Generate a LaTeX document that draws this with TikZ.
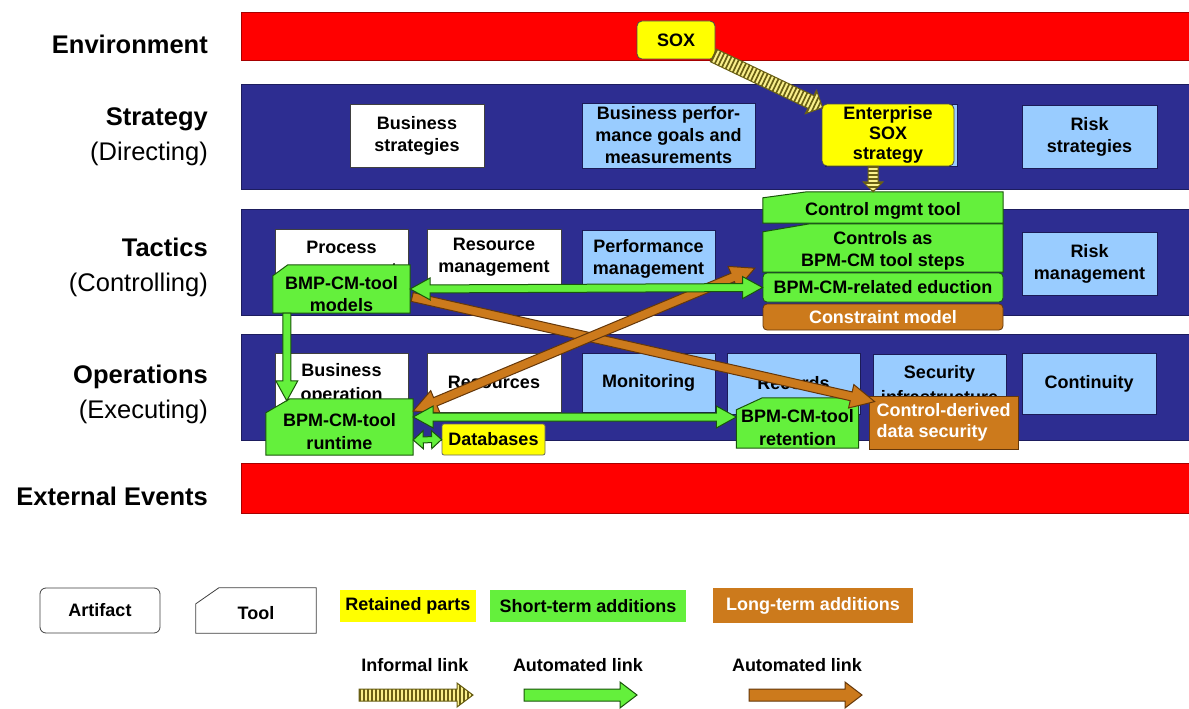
\documentclass[tikz,border=0pt]{standalone}
\usepackage{fontspec}
\setmainfont{Liberation Sans}
\usetikzlibrary{calc}

\definecolor{navy}{RGB}{45,45,145}
\definecolor{lblue}{RGB}{153,204,255}
\definecolor{grn}{RGB}{100,240,60}
\definecolor{dgrn}{RGB}{25,85,10}
\definecolor{org}{RGB}{204,122,28}
\definecolor{dorg}{RGB}{100,55,10}
\definecolor{yel}{RGB}{255,255,0}
\definecolor{inffill}{RGB}{250,240,140}
\definecolor{infline}{RGB}{105,95,20}
\definecolor{redband}{RGB}{255,0,0}

\pgfdeclarelayer{boxlayer}
\pgfdeclarelayer{toollayer}
\pgfsetlayers{boxlayer,toollayer,main}

\newcommand\boxfont{\fontsize{18}{22}\selectfont\bfseries}

\tikzset{
  sz/.style 2 args={minimum width=#1pt, minimum height=#2pt},
  band/.style={draw=#1!65!black, fill=#1, line width=0.8pt},
  lbl/.style={font=\fontsize{25.5}{35}\selectfont, anchor=east, align=right, inner sep=0pt},
  box/.style={draw=black!75, line width=0.8pt, align=center, inner sep=0pt, font=\boxfont, text=black},
  wbox/.style={box, fill=white},
  bbox/.style={box, fill=lblue, draw=navy!60!black},
  ybox/.style={box, fill=yel, draw=black!70, rounded corners=5pt},
  gbox/.style={box, fill=grn, draw=dgrn, rounded corners=4pt},
  obox/.style={box, fill=org, draw=dorg, text=white, rounded corners=4pt},
  toolnode/.style={inner sep=0pt},
  txt/.style={font=\boxfont, align=center, inner sep=0pt},
  toolline/.style={fill=grn, draw=dgrn, line width=1pt},
  garrow/.style={fill=grn, draw=dgrn, line width=1pt, line join=miter},
  oarrow/.style={fill=org, draw=dorg, line width=1pt, line join=miter},
  legbox/.style={align=center, inner sep=0pt, font=\boxfont},
}

% tool outline: rectangle with a chamfered top-left corner
\newcommand\toolshape[4][toolline]{%
  \begin{pgfonlayer}{toollayer}
    \draw[#1] (#2.south west) -- ($(#2.north west)+(0,#4)$) -- ($(#2.north west)+(#3,0)$)
      -- (#2.north east) -- (#2.south east) -- cycle;
  \end{pgfonlayer}}

% single-headed block arrow: style, from, to, shaft half width, head half width, head length
\newcommand\blockarrow[6][]{%
  \coordinate (ba-s) at #2; \coordinate (ba-e) at #3;
  \coordinate (ba-h) at ($(ba-e)!#6!(ba-s)$);
  \draw[#1] ($(ba-s)!#4!90:(ba-e)$) -- ($(ba-h)!#4!90:(ba-e)$) -- ($(ba-h)!#5!90:(ba-e)$)
    -- (ba-e) -- ($(ba-h)!#5!-90:(ba-e)$) -- ($(ba-h)!#4!-90:(ba-e)$)
    -- ($(ba-s)!#4!-90:(ba-e)$) -- cycle;}

% double-headed block arrow
\newcommand\dblarrow[6][]{%
  \coordinate (ba-s) at #2; \coordinate (ba-e) at #3;
  \coordinate (ba-h) at ($(ba-e)!#6!(ba-s)$);
  \coordinate (ba-g) at ($(ba-s)!#6!(ba-e)$);
  \draw[#1] (ba-s) -- ($(ba-g)!#5!90:(ba-e)$) -- ($(ba-g)!#4!90:(ba-e)$)
    -- ($(ba-h)!#4!90:(ba-e)$) -- ($(ba-h)!#5!90:(ba-e)$) -- (ba-e)
    -- ($(ba-h)!#5!-90:(ba-e)$) -- ($(ba-h)!#4!-90:(ba-e)$)
    -- ($(ba-g)!#4!-90:(ba-e)$) -- ($(ba-g)!#5!-90:(ba-e)$) -- cycle;}

% informal (hatched) arrow: from, to, shaft half width, head half width, head length
\newcommand\infarrow[5]{%
  \coordinate (ia-s) at #1; \coordinate (ia-e) at #2;
  \coordinate (ia-h) at ($(ia-e)!#5!(ia-s)$);
  \coordinate (ia-1) at ($(ia-s)!#3!90:(ia-e)$);
  \coordinate (ia-2) at ($(ia-h)!#3!90:(ia-e)$);
  \coordinate (ia-3) at ($(ia-h)!#4!90:(ia-e)$);
  \coordinate (ia-4) at ($(ia-h)!#4!-90:(ia-e)$);
  \coordinate (ia-5) at ($(ia-h)!#3!-90:(ia-e)$);
  \coordinate (ia-6) at ($(ia-s)!#3!-90:(ia-e)$);
  \fill[inffill] (ia-1) -- (ia-2) -- (ia-3) -- (ia-e) -- (ia-4) -- (ia-5) -- (ia-6) -- cycle;
  \begin{scope}
    \clip (ia-1) -- (ia-2) -- (ia-3) -- (ia-e) -- (ia-4) -- (ia-5) -- (ia-6) -- cycle;
    \draw[infline, line width=40pt, dash pattern=on 1.7pt off 2.3pt] (ia-s) -- (ia-e);
  \end{scope}
  \draw[infline, line width=1pt, line join=miter]
    (ia-1) -- (ia-2) -- (ia-3) -- (ia-e) -- (ia-4) -- (ia-5) -- (ia-6) -- cycle;}

\begin{document}
\begin{tikzpicture}[x=1pt,y=-1pt]
\useasboundingbox (0,0) rectangle (1189,709);

% ---------- layer titles ----------
\node[lbl, font=\fontsize{25.5}{35}\selectfont\bfseries] (l-env) at (208,44) {Environment};
\node[lbl] (l-strat) at (208,137) {\textbf{Strategy}\\(Directing)};
\node[lbl] (l-tact) at (208,267) {\textbf{Tactics}\\(Controlling)};
\node[lbl] (l-oper) at (208,394) {\textbf{Operations}\\(Executing)};
\node[lbl, font=\fontsize{25.5}{35}\selectfont\bfseries] (l-ext) at (208,496) {External Events};

\begin{pgfonlayer}{boxlayer}
\fill[white] (0,0) rectangle (1189,709);
% ---------- bands ----------
\draw[band=redband] (241,12) rectangle (1192,60);
\draw[band=navy] (241,84) rectangle (1192,189);
\draw[band=navy] (241,209) rectangle (1192,315);
\draw[band=navy] (241,334) rectangle (1192,440);
\draw[band=redband] (241,463) rectangle (1192,513);

% ---------- strategy ----------
\node[wbox, sz={134}{63}] (bstrat) at (417,136) {Business\\strategies};
\node[bbox, sz={173}{65}] (bperf) at (668.5,135.5) {Business perfor-\\mance goals and\\measurements};
\node[bbox, sz={132}{62}] (entbg) at (891,135) {};
\node[bbox, sz={135}{63}] (rstrat) at (1089.5,136.5) {Risk\\strategies};

% ---------- tactics ----------
\node[wbox, sz={133}{63}] (process) at (341.5,260.5) {Process\\management};
\node[wbox, sz={134}{56}] (resmgmt) at (494,257) {Resource\\management};
\node[bbox, sz={133}{57}] (perfmgmt) at (648.5,258.5) {Performance\\management};
\node[bbox, sz={135}{63}] (riskmgmt) at (1089.5,263.5) {Risk\\management};

% ---------- operations ----------
\node[wbox, sz={133}{62}, font=\fontsize{18}{24}\selectfont\bfseries] (busop) at (341.5,384) {Business\\operation};
\node[wbox, sz={134}{59}] (resources) at (494,382.5) {Resources};
\node[bbox, sz={133}{59}] (monitoring) at (648.5,382.5) {Monitoring};
\node[bbox, sz={133}{61}] (records) at (793.5,383.5) {Records};
\node[bbox, sz={133}{61}, font=\fontsize{18}{25}\selectfont\bfseries] (secinfra) at (939.5,385) {Security\\infrastructure};
\node[bbox, sz={134}{61}] (continuity) at (1089,383.5) {Continuity};
\end{pgfonlayer}

% ---------- retained parts ----------
\node[ybox, sz={78}{38}] (sox) at (676,40) {SOX};
\node[ybox, sz={132}{62}, font=\fontsize{18}{20}\selectfont\bfseries] (entsox) at (888,135) {Enterprise\\SOX\\strategy};
\node[ybox, sz={103}{31}, rounded corners=2pt, draw=black!60] (databases) at (493.5,439.5) {Databases};

% ---------- tools ----------
\node[toolnode, sz={240}{31}] (ctrltool) at (883,207.5) {};
\toolshape{ctrltool}{44}{6}
\node[txt] (ctrltool-t) at ($(ctrltool)+(0,3)$) {Control mgmt tool};

\node[toolnode, sz={240}{48}] (ctrlsteps) at (883,248) {};
\toolshape{ctrlsteps}{47}{8}
\node[txt] (ctrlsteps-t) at ($(ctrlsteps)+(0,3)$) {Controls as\\BPM-CM tool steps};

\node[toolnode, sz={137}{48}] (bmp) at (341.5,289) {};
\toolshape{bmp}{15}{11}
\node[txt] (bmp-t) at ($(bmp)+(0,5)$) {BMP-CM-tool\\models};

\node[toolnode, sz={147}{56}] (runtime) at (339.5,427) {};
\toolshape{runtime}{24}{14}
\node[txt, font=\fontsize{18}{23}\selectfont\bfseries] (runtime-t) at ($(runtime)+(0,5)$) {BPM-CM-tool\\runtime};

\node[toolnode, sz={122}{50}] (retention) at (797.5,423) {};
\toolshape{retention}{26}{12}
\node[txt, font=\fontsize{18}{23}\selectfont\bfseries] (retention-t) at ($(retention)+(0,5)$) {BPM-CM-tool\\retention};

% ---------- artifacts ----------
\node[gbox, sz={240}{29}] (eduction) at (883,287.5) {BPM-CM-related eduction};
\node[obox, sz={240}{26}] (constraint) at (883,317) {Constraint model};
\node[obox, sz={149}{53}, rounded corners=0pt, align=left, font=\fontsize{18}{21}\selectfont\bfseries] (ctrlsec) at (943.5,422.5) {Control-derived\\data security};

% ---------- links ----------
\infarrow{($(sox.south east)+(-2,-4)$)}{($(entsox.north west)+(1,4)$)}{7pt}{13pt}{13pt}
\infarrow{($(entsox.south)+(-15,0)$)}{($(ctrltool.north)+(-10,0)$)}{5pt}{10pt}{10pt}

\blockarrow[oarrow]{($(bmp.east)+(2,8)$)}{($(ctrlsec.north west)+(6,6)$)}{4.5pt}{12pt}{24pt}
\dblarrow[oarrow]{($(runtime.east)+(0,-16)$)}{($(ctrlsteps.south west)+(-8,-4)$)}{4.5pt}{12pt}{24pt}

\dblarrow[garrow]{(bmp.east)}{(eduction.west)}{4pt}{11pt}{20pt}
\blockarrow[garrow]{($(bmp.south west)+(14,0)$)}{($(runtime.north west)+(21,2)$)}{4pt}{11pt}{20pt}
\dblarrow[garrow]{($(runtime.east)+(0,-10)$)}{($(retention.west)+(0,-6)$)}{4pt}{11pt}{20pt}
\dblarrow[garrow]{($(runtime.east)+(0,13)$)}{(databases.west)}{3pt}{9pt}{10pt}

% ---------- legend ----------
\node[box, fill=white, sz={120}{45}, rounded corners=6pt] (artifact) at (100,610.5) {Artifact};
\node[toolnode, sz={120}{45}] (tool) at (256,610.5) {};
\toolshape[fill=white, draw=black!75, line width=0.8pt]{tool}{23}{16}
\node[txt] (tool-t) at ($(tool)+(0,3)$) {Tool};
\node[legbox, fill=yel, sz={136}{32}] (retained) at (408,606) {Retained parts};
\node[legbox, fill=grn, sz={196}{32}] (shortterm) at (588,606) {Short-term additions};
\node[legbox, fill=org, text=white, sz={200}{35}] (longterm) at (813,605.5) {Long-term additions};

\node[txt] (inf-l) at (415,665) {Informal link};
\node[txt] (auto-l1) at (578,665) {Automated link};
\node[txt] (auto-l2) at (797,665) {Automated link};

\coordinate (li-s) at (359,695); \coordinate (li-e) at (473,695);
\coordinate (lg-s) at (524,695); \coordinate (lg-e) at (637,695);
\coordinate (lo-s) at (749,695); \coordinate (lo-e) at (862,695);
\infarrow{(li-s)}{(li-e)}{6pt}{12pt}{16pt}
\blockarrow[garrow]{(lg-s)}{(lg-e)}{6pt}{13pt}{17pt}
\blockarrow[oarrow]{(lo-s)}{(lo-e)}{6pt}{13pt}{17pt}
\end{tikzpicture}
\end{document}
